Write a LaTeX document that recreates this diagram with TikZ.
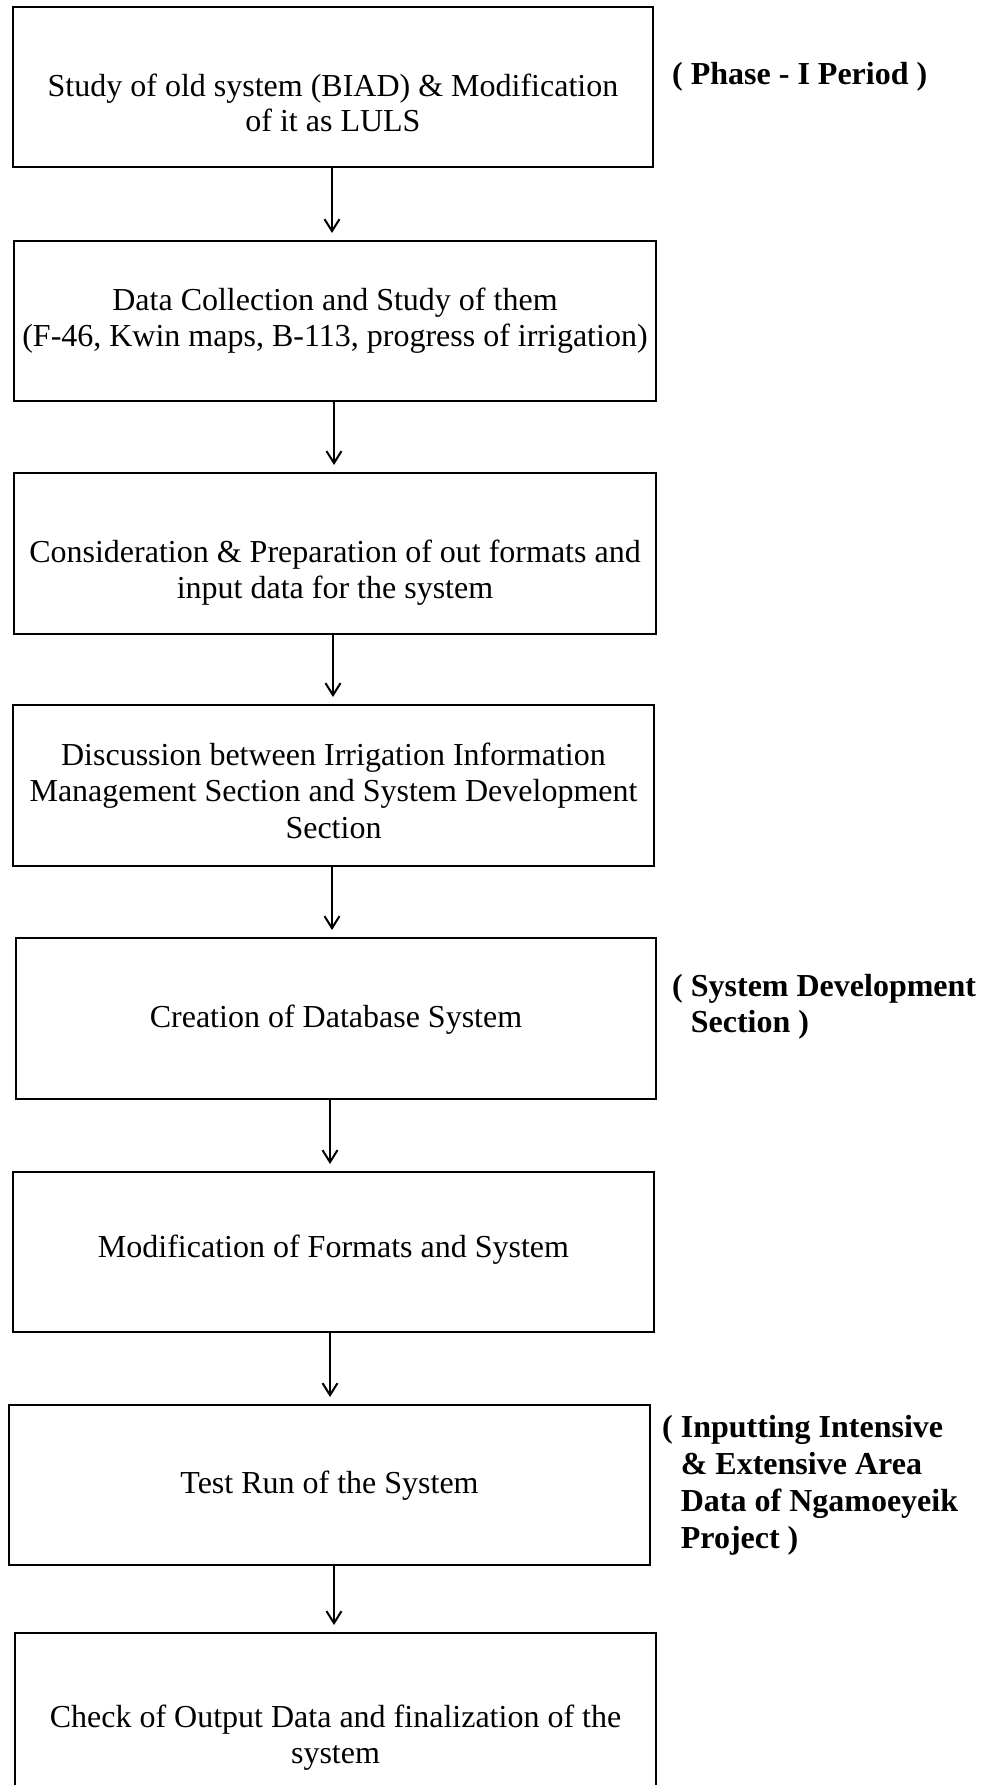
\documentclass[tikz,border=0pt]{standalone}
\usepackage{fontspec}
\setmainfont{Liberation Serif}
\usetikzlibrary{arrows.meta}
\newcommand\topstrut{\rule{0pt}{25pt}}
\begin{document}
\setlength{\lineskiplimit}{-50pt}%
\begin{tikzpicture}[x=1pt,y=-1pt,
  box/.style={draw, line width=2pt, inner sep=0pt},
  txt/.style={inner sep=0pt, align=center, anchor=north, font=\fontsize{32}{#1}\selectfont},
  txt/.default=36,
  side/.style={inner sep=0pt, align=left, anchor=north west, font=\fontsize{32}{#1}\selectfont\bfseries},
  side/.default=36,
  arr/.style={line width=2pt, -{Straight Barb[length=12pt,width=15pt]}, shorten >=7pt}]
\useasboundingbox (0,0) rectangle (994,1785);
\clip (0,0) rectangle (994,1785);
\fill[white] (0,0) rectangle (994,1785);
% boxes
\node[box, minimum width=640, minimum height=160] (b1) at (333,87) {};
\node[box, minimum width=642, minimum height=160] (b2) at (335,321) {};
\node[box, minimum width=642, minimum height=161] (b3) at (335,553.5) {};
\node[box, minimum width=641, minimum height=161] (b4) at (333.5,785.5) {};
\node[box, minimum width=640, minimum height=161] (b5) at (336,1018.5) {};
\node[box, minimum width=641, minimum height=160] (b6) at (333.5,1252) {};
\node[box, minimum width=641, minimum height=160] (b7) at (329.5,1485) {};
\node[box, minimum width=641, minimum height=167] (b8) at (335.5,1716.5) {};
% box texts (y = first baseline - 25)
\node[txt=35.5] (t1) at (333,71) {\topstrut Study of old system (BIAD) \& Modification\\of it as LULS};
\node[txt] (t2) at (335,285.5) {\topstrut Data Collection and Study of them\\(F-46, Kwin maps, B-113, progress of irrigation)};
\node[txt] (t3) at (335,537) {\topstrut Consideration \& Preparation of out formats and\\input data for the system};
\node[txt=36.5] (t4) at (333.5,740) {\topstrut Discussion between Irrigation Information\\Management Section and System Development\\Section};
\node[txt] (t5) at (336,1002) {\topstrut Creation of Database System};
\node[txt] (t6) at (333.5,1232) {\topstrut Modification of Formats and System};
\node[txt] (t7) at (329.5,1468) {\topstrut Test Run of the System};
\node[txt] (t8) at (335.5,1702) {\topstrut Check of Output Data and finalization of the\\system};
% side labels
\node[side] (s1) at (672,59) {\topstrut ( Phase - I Period )};
\node[side] (s2) at (672,971) {\topstrut ( System Development\\\hphantom{(}\ Section )};
\node[side=37] (s3) at (662,1412) {\topstrut ( Inputting Intensive\\\hphantom{(}\ \& Extensive Area\\\hphantom{(}\ Data of Ngamoeyeik\\\hphantom{(}\ Project )};
% arrows
\draw[arr] ([xshift=-1]b1.south) -- ([xshift=-1]b1.south |- b2.north);
\draw[arr] ([xshift=-1]b2.south) -- ([xshift=-1]b2.south |- b3.north);
\draw[arr] ([xshift=-2]b3.south) -- ([xshift=-2]b3.south |- b4.north);
\draw[arr] ([xshift=-1.5]b4.south) -- ([xshift=-1.5]b4.south |- b5.north);
\draw[arr] ([xshift=-6]b5.south) -- ([xshift=-6]b5.south |- b6.north);
\draw[arr] ([xshift=-3.5]b6.south) -- ([xshift=-3.5]b6.south |- b7.north);
\draw[arr] ([xshift=4.5]b7.south) -- ([xshift=4.5]b7.south |- b8.north);
\end{tikzpicture}
\end{document}
